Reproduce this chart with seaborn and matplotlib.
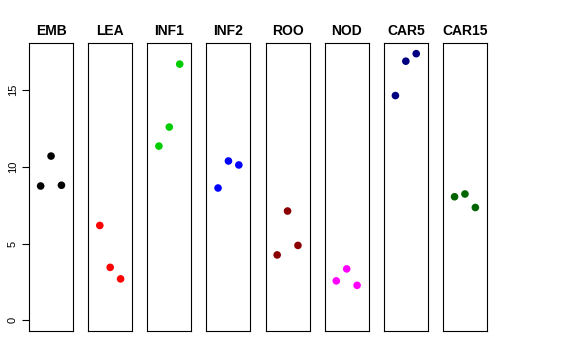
import matplotlib
matplotlib.use("Agg")
import matplotlib.pyplot as plt
import seaborn as sns
import pandas as pd

tissues = ["EMB", "LEA", "INF1", "INF2", "ROO", "NOD", "CAR5", "CAR15"]
colors = ["#000000", "#FF0000", "#00CD00", "#0000FF", "#8B0000", "#FF00FF", "#000080", "#006400"]
replicate = [1, 2, 3]
emb = [8.75, 10.70, 8.80]
lea = [6.18, 3.45, 2.70]
inf1 = [11.35, 12.59, 16.69]
inf2 = [8.62, 10.38, 10.12]
roo = [4.26, 7.12, 4.88]
nod = [2.57, 3.35, 2.28]
car5 = [14.64, 16.88, 17.37]
car15 = [8.05, 8.23, 7.35]
values = [emb, lea, inf1, inf2, roo, nod, car5, car15]
yticks = [0, 5, 10, 15]

rows = []
for t, v in zip(tissues, values):
    for r, val in zip(replicate, v):
        rows.append({"tissue": t, "rep": r, "value": val})
df = pd.DataFrame(rows)

sns.set_style("white")
plt.rcParams["font.family"] = ["Liberation Sans", "DejaVu Sans"]
plt.rcParams["text.color"] = "black"
plt.rcParams["axes.labelcolor"] = "black"
plt.rcParams["ytick.color"] = "black"

fig, axes = plt.subplots(1, 8, figsize=(5.76, 3.6), dpi=100, sharey=True)
fig.subplots_adjust(left=29/576, right=487/576, top=1-43/360, bottom=1-331/360, wspace=0.341)

ymax = max(max(v) for v in values)
yr = ymax - 0
for ax, t, c in zip(axes, tissues, colors):
    sub = df[df["tissue"] == t]
    sns.scatterplot(data=sub, x="rep", y="value", color=c, s=30, edgecolor="none", ax=ax, legend=False)
    ax.set_xlim(-0.12, 4.12)
    ax.set_ylim(0 - 0.04 * yr, ymax + 0.04 * yr)
    ax.set_title(t, fontsize=10, fontweight="bold", pad=6, color="black")
    ax.set_xlabel("")
    ax.set_ylabel("")
    ax.set_xticks([])
    for s in ax.spines.values():
        s.set_visible(True)
        s.set_color("black")
        s.set_linewidth(0.8)

axes[0].set_yticks(yticks)
axes[0].tick_params(axis="y", left=True, length=5, width=0.8, labelsize=8, pad=3,
                    color="black", labelcolor="black")
for lab in axes[0].get_yticklabels():
    lab.set_rotation(90)
    lab.set_va("center")
for ax in axes[1:]:
    ax.tick_params(axis="y", left=False, labelleft=False)

fig.savefig("out.png", dpi=100)
